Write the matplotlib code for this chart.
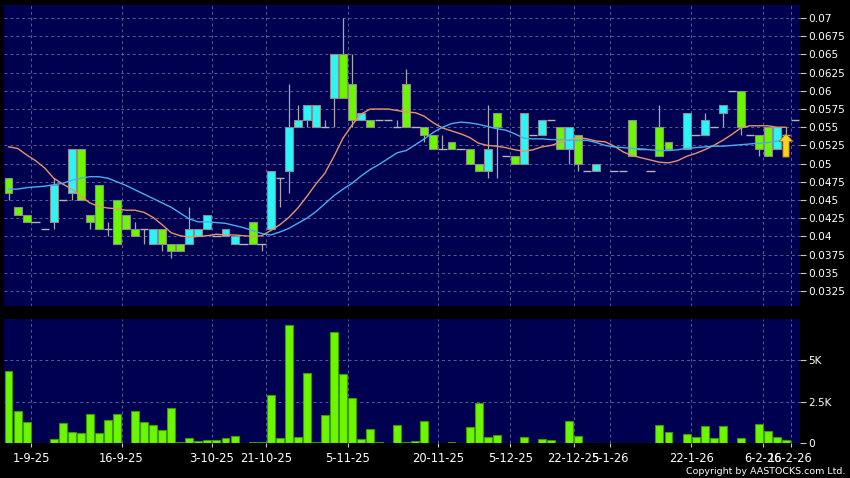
import numpy as np
import matplotlib
matplotlib.use('Agg')
import matplotlib.pyplot as plt

nan = np.nan

# daily OHLC (one slot per session, nan = no candle)
opens = [0.048, 0.044, 0.043, 0.042, 0.041, 0.042, 0.045, 0.046, 0.052, 0.043,
         0.047, 0.041, 0.045, 0.043, 0.041, 0.041, 0.039, 0.041, 0.039, 0.039,
         0.039, 0.040, 0.041, 0.040, 0.040, 0.039, 0.039, 0.042, 0.039, 0.041,
         0.048, 0.049, 0.055, 0.056, 0.055, 0.055, 0.059, 0.065, 0.061, 0.056,
         0.056, 0.056, 0.056, 0.055, 0.061, 0.055, 0.055, 0.054, 0.052, 0.053,
         0.052, 0.052, 0.050, 0.049, 0.057, 0.051, 0.051, 0.050, 0.054, 0.054,
         0.056, 0.055, 0.052, 0.054, 0.049, 0.049, nan, 0.049, 0.049, 0.056,
         0.052, 0.049, 0.055, 0.053, nan, 0.052, 0.054, 0.054, 0.055, 0.057,
         0.060, 0.060, 0.054, 0.054, 0.055, 0.052, 0.054, 0.056]
highs = [0.048, 0.044, 0.043, 0.042, 0.041, 0.048, 0.045, 0.052, 0.052, 0.043,
         0.047, 0.042, 0.045, 0.043, 0.042, 0.041, 0.041, 0.041, 0.039, 0.039,
         0.044, 0.041, 0.043, 0.040, 0.041, 0.040, 0.039, 0.042, 0.039, 0.049,
         0.048, 0.061, 0.058, 0.058, 0.058, 0.056, 0.065, 0.070, 0.065, 0.057,
         0.056, 0.056, 0.056, 0.056, 0.063, 0.055, 0.055, 0.054, 0.054, 0.053,
         0.052, 0.052, 0.050, 0.058, 0.057, 0.051, 0.051, 0.057, 0.054, 0.056,
         0.056, 0.055, 0.055, 0.054, 0.049, 0.050, nan, 0.049, 0.049, 0.056,
         0.052, 0.049, 0.058, 0.053, nan, 0.057, 0.054, 0.057, 0.055, 0.058,
         0.060, 0.060, 0.054, 0.054, 0.055, 0.055, 0.055, 0.056]
lows = [0.045, 0.043, 0.042, 0.042, 0.041, 0.041, 0.045, 0.045, 0.045, 0.041,
        0.041, 0.040, 0.039, 0.041, 0.040, 0.039, 0.039, 0.038, 0.037, 0.038,
        0.039, 0.040, 0.041, 0.040, 0.040, 0.039, 0.039, 0.039, 0.038, 0.041,
        0.044, 0.046, 0.055, 0.055, 0.055, 0.055, 0.055, 0.059, 0.055, 0.056,
        0.055, 0.056, 0.056, 0.055, 0.055, 0.055, 0.053, 0.052, 0.052, 0.052,
        0.052, 0.050, 0.049, 0.048, 0.048, 0.051, 0.050, 0.050, 0.054, 0.054,
        0.056, 0.052, 0.050, 0.049, 0.049, 0.049, nan, 0.049, 0.049, 0.051,
        0.052, 0.049, 0.051, 0.052, nan, 0.052, 0.054, 0.054, 0.055, 0.055,
        0.060, 0.054, 0.054, 0.051, 0.051, 0.052, 0.053, 0.056]
closes = [0.046, 0.043, 0.042, 0.042, 0.041, 0.047, 0.045, 0.052, 0.045, 0.042,
          0.041, 0.041, 0.039, 0.041, 0.040, 0.041, 0.041, 0.039, 0.038, 0.038,
          0.041, 0.041, 0.043, 0.040, 0.041, 0.040, 0.039, 0.039, 0.039, 0.049,
          0.048, 0.055, 0.056, 0.058, 0.058, 0.055, 0.065, 0.059, 0.056, 0.057,
          0.055, 0.056, 0.056, 0.055, 0.055, 0.055, 0.054, 0.052, 0.052, 0.052,
          0.052, 0.050, 0.049, 0.052, 0.055, 0.051, 0.050, 0.057, 0.054, 0.056,
          0.056, 0.052, 0.055, 0.050, 0.049, 0.050, nan, 0.049, 0.049, 0.051,
          0.052, 0.049, 0.051, 0.052, nan, 0.057, 0.054, 0.056, 0.055, 0.058,
          0.060, 0.055, 0.054, 0.052, 0.051, 0.055, 0.054, 0.056]

# volume in thousands
volume = [4.34, 1.92, 1.30, 0, 0, 0.24, 1.22, 0.68, 0.62, 1.74,
          0.62, 1.40, 1.78, 0, 1.92, 1.30, 1.10, 0.80, 2.14, 0.06,
          0.32, 0.12, 0.18, 0.18, 0.34, 0.42, 0, 0.06, 0.06, 2.88,
          0.32, 7.10, 0.38, 4.24, 0.06, 1.70, 6.66, 4.16, 2.74, 0.28,
          0.86, 0.06, 0, 1.08, 0.06, 0.16, 1.32, 0, 0, 0.06,
          0, 1.00, 2.40, 0.36, 0.50, 0, 0, 0.36, 0, 0.24,
          0.18, 0, 1.36, 0.46, 0, 0, 0, 0, 0, 0,
          0, 0, 1.12, 0.70, 0, 0.56, 0.36, 1.02, 0.30, 1.02,
          0, 0.32, 0, 1.16, 0.76, 0.38, 0.18, 0]

# moving averages (short = orange, long = blue)
ma_short = [0.0523, 0.0521, 0.0512, 0.0504, 0.0494, 0.0480, 0.0472, 0.0465, 0.0455, 0.0446,
            0.0441, 0.0439, 0.0438, 0.0436, 0.0436, 0.0433, 0.0426, 0.0416, 0.0405, 0.0401,
            0.0399, 0.0400, 0.0401, 0.0403, 0.0402, 0.0402, 0.0401, 0.0400, 0.0401, 0.0408,
            0.0416, 0.0426, 0.0439, 0.0455, 0.0472, 0.0487, 0.0510, 0.0535, 0.0553, 0.0568,
            0.0575, 0.0575, 0.0575, 0.0573, 0.0571, 0.0570, 0.0565, 0.0556, 0.0549, 0.0545,
            0.0541, 0.0536, 0.0528, 0.0525, 0.0524, 0.0522, 0.0519, 0.0517, 0.0519, 0.0523,
            0.0525, 0.0529, 0.0532, 0.0536, 0.0534, 0.0531, 0.0530, 0.0524, 0.0516, 0.0511,
            0.0508, 0.0505, 0.0502, 0.0501, 0.0504, 0.0510, 0.0514, 0.0519, 0.0525, 0.0532,
            0.0540, 0.0549, 0.0552, 0.0552, 0.0552, 0.0550, 0.0550]
ma_long = [0.0465, 0.0465, 0.0467, 0.0468, 0.0469, 0.0471, 0.0473, 0.0477, 0.0480, 0.0482,
           0.0482, 0.0480, 0.0475, 0.0470, 0.0464, 0.0458, 0.0452, 0.0446, 0.0440, 0.0432,
           0.0424, 0.0420, 0.0420, 0.0419, 0.0418, 0.0415, 0.0412, 0.0408, 0.0404, 0.0402,
           0.0406, 0.0411, 0.0418, 0.0425, 0.0434, 0.0445, 0.0456, 0.0465, 0.0473, 0.0483,
           0.0492, 0.0499, 0.0507, 0.0515, 0.0518, 0.0526, 0.0534, 0.0543, 0.0550, 0.0555,
           0.0557, 0.0556, 0.0554, 0.0551, 0.0548, 0.0546, 0.0541, 0.0535, 0.0534, 0.0534,
           0.0533, 0.0533, 0.0532, 0.0532, 0.0532, 0.0529, 0.0525, 0.0523, 0.0522, 0.0521,
           0.0520, 0.0519, 0.0518, 0.0518, 0.0519, 0.0521, 0.0522, 0.0523, 0.0524, 0.0524,
           0.0525, 0.0526, 0.0527, 0.0528, 0.0529, 0.0531, 0.0532]

# date labels and the slot boundary they sit on
date_pos = [2.5, 12.5, 22.5, 28.5, 37.5, 47.5, 55.5, 62.5, 66.5, 75.5, 83.5, 86.5]
date_labels = ['1-9-25', '16-9-25', '3-10-25', '21-10-25', '5-11-25', '20-11-25',
               '5-12-25', '22-12-25', '5-1-26', '22-1-26', '6-2-26', '16-2-26']

price_ticks = [0.0325, 0.035, 0.0375, 0.04, 0.0425, 0.045, 0.0475, 0.05,
               0.0525, 0.055, 0.0575, 0.06, 0.0625, 0.065, 0.0675, 0.07]
vol_ticks = [0, 2.5, 5]
vol_labels = ['0', '2.5K', '5K']

bg = '#000050'
grid_c = '#5a5a96'
up_c = '#2ef4f4'
down_c = '#6cf700'

o = np.array(opens)
h = np.array(highs)
l = np.array(lows)
c = np.array(closes)
x = np.arange(len(o))

fig = plt.figure(figsize=(8.5, 4.78), dpi=100, facecolor='black')
ax = fig.add_axes([0.0047, 0.3598, 0.9365, 0.6297], facecolor=bg)
axv = fig.add_axes([0.0047, 0.0722, 0.9365, 0.2605], facecolor=bg, sharex=ax)

# candles: wicks, bodies, and flat dashes
ok = ~np.isnan(o)
ax.vlines(x[ok], l[ok], h[ok], color='#a8a8a8', lw=0.9, zorder=2)
up = ok & (c > o)
down = ok & (c < o)
flat = ok & (c == o)
ax.bar(x[up], (c - o)[up], bottom=o[up], width=0.88, color=up_c,
       edgecolor='#8c8c8c', lw=0.8, zorder=3)
ax.bar(x[down], (o - c)[down], bottom=c[down], width=0.88, color=down_c,
       edgecolor='#8c8c8c', lw=0.8, zorder=3)
ax.hlines(c[flat], x[flat] - 0.46, x[flat] + 0.46, color='#b4b4b4', lw=1, zorder=3)

ax.plot(x[:len(ma_short)], ma_short, color='#e8946a', lw=1, zorder=4)
ax.plot(x[:len(ma_long)], ma_long, color='#4aaef0', lw=1, zorder=4)

# signal arrow on the latest traded candle
last = len(ma_short) - 1
ax.annotate('', xy=(last, h[last] - 0.0009), xytext=(last, l[last] - 0.0021),
            arrowprops=dict(arrowstyle='simple,head_length=0.55,head_width=1.0,tail_width=0.45',
                            fc='#ffd21f', ec='#9a7400', lw=0.6, shrinkA=0, shrinkB=0),
            zorder=6)

ax.set_xlim(-0.5, 87.55)
ax.set_ylim(0.03044, 0.07179)
ax.set_yticks(price_ticks)
ax.set_yticklabels(['%g' % t for t in price_ticks])
ax.set_xticks(date_pos)

axv.bar(x, volume, width=0.88, color=down_c, edgecolor='#3a9a00', lw=0.8, zorder=3)
axv.set_ylim(0, 7.46)
axv.set_yticks(vol_ticks)
axv.set_yticklabels(vol_labels)
axv.set_xticks(date_pos)
axv.set_xticklabels(date_labels)

for a in (ax, axv):
    for s in a.spines.values():
        s.set_visible(False)
    a.yaxis.tick_right()
    a.grid(True, color=grid_c, lw=0.7, linestyle=(0, (3, 3)), zorder=1)
    a.tick_params(axis='y', colors='#c8c8c8', labelcolor='white', length=4,
                  width=0.8, pad=2, labelsize=7.6)
    a.tick_params(axis='x', colors='#c8c8c8', labelcolor='white', length=3,
                  width=0.8, pad=3, labelsize=8.3)
ax.tick_params(axis='x', length=0, labelbottom=False)

fig.text(0.995, 0.004, 'Copyright by AASTOCKS.com Ltd.', ha='right', va='bottom',
         color='white', fontsize=6.8)

fig.savefig('out.png', dpi=100, facecolor='black')
